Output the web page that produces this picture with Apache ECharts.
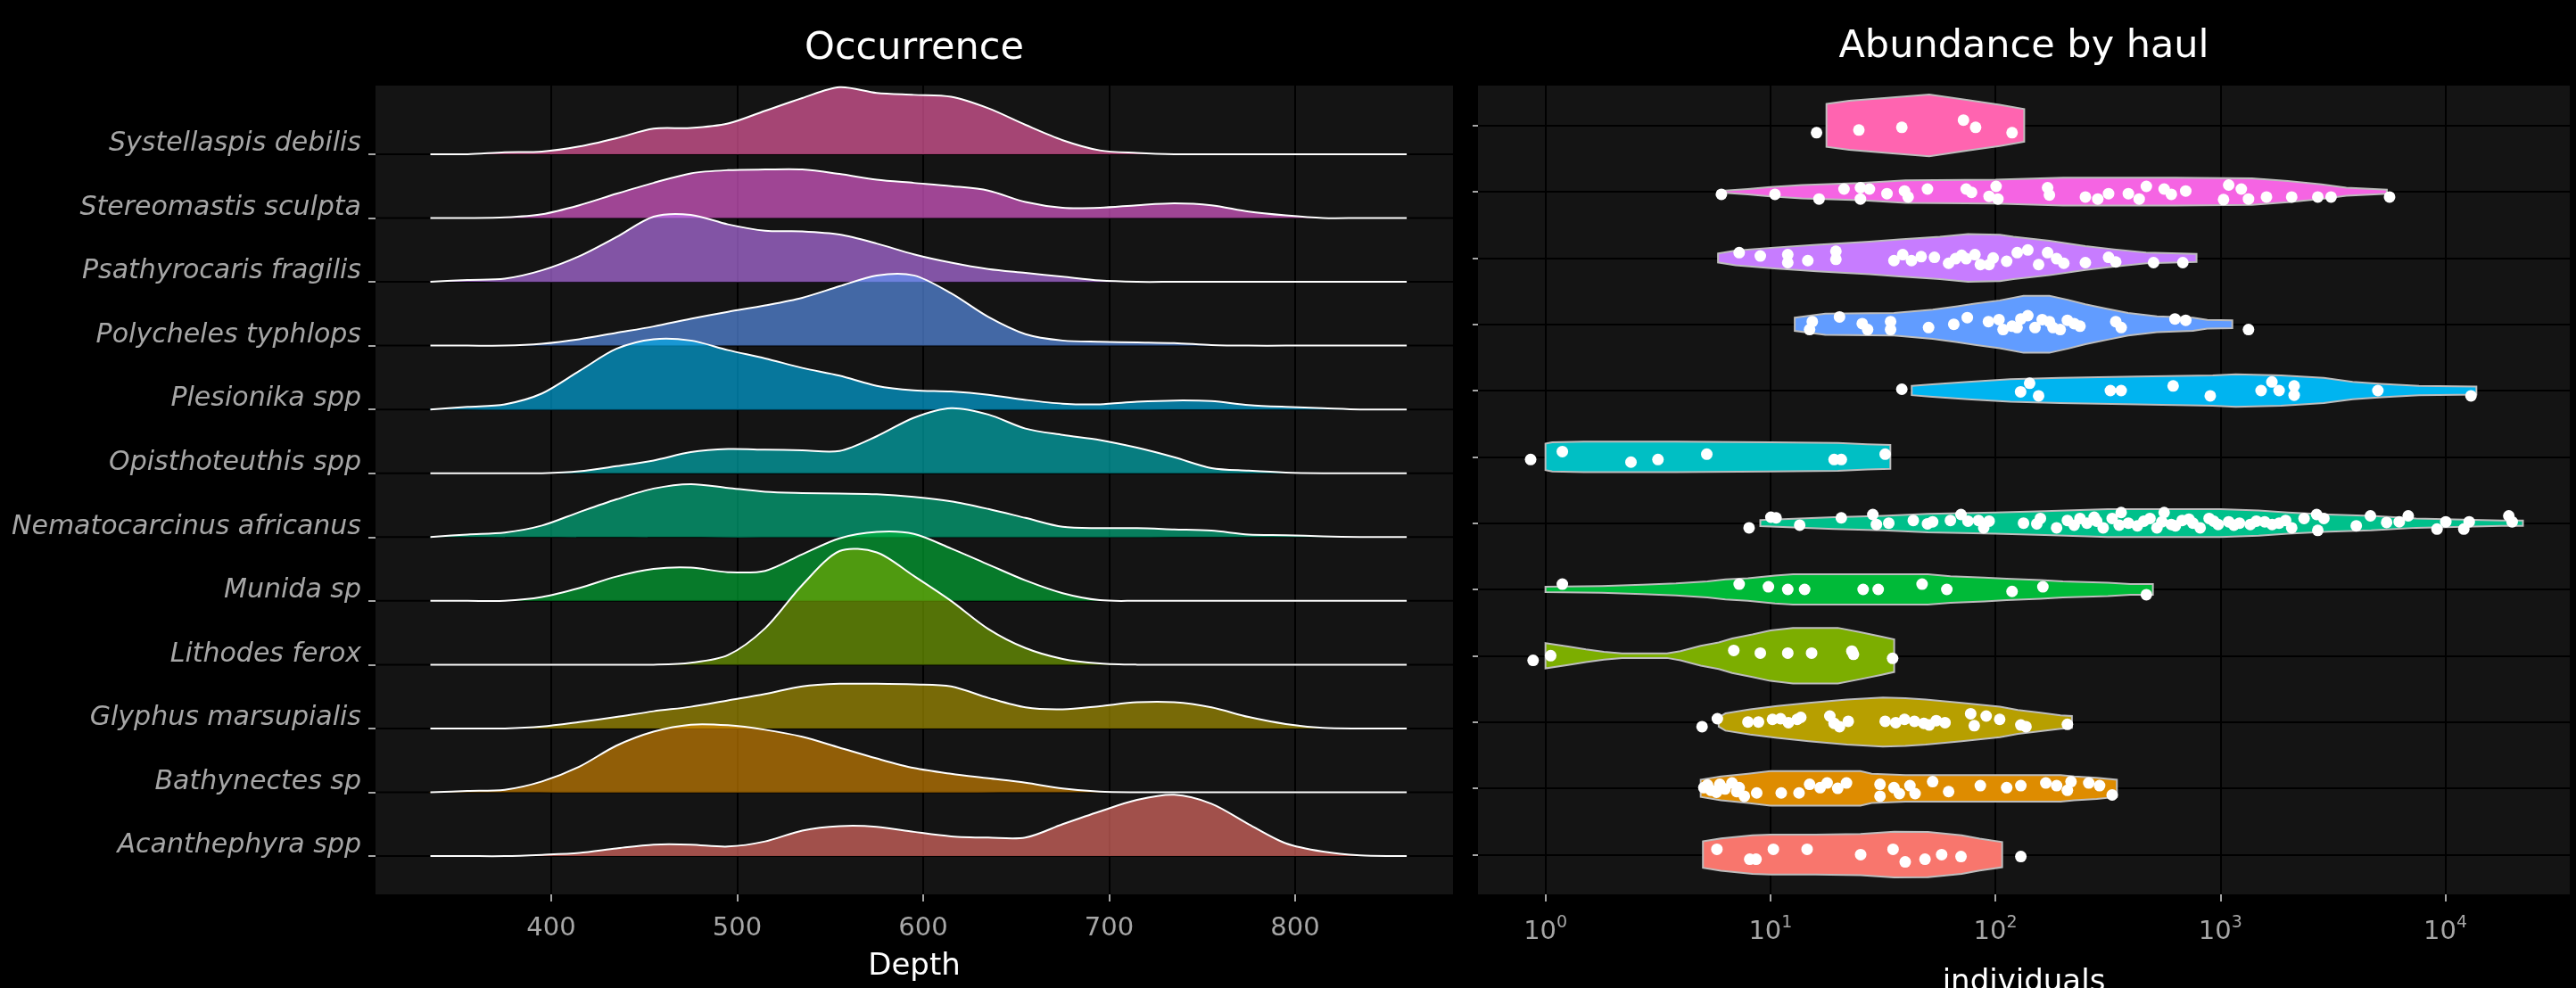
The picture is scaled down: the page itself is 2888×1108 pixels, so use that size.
<!DOCTYPE html>
<html>
<head>
<meta charset="utf-8">
<script src="https://cdn.jsdelivr.net/npm/echarts@6/dist/echarts.min.js"></script>
<style>
  html, body { margin: 0; background: #000; }
  #chart { width: 2888px; height: 1108px; }
</style>
</head>
<body>
<div id="chart"></div>
<script>
// species, bottom row first
const SPECIES = ['Acanthephyra spp', 'Bathynectes sp', 'Glyphus marsupialis', 'Lithodes ferox', 'Munida sp',
  'Nematocarcinus africanus', 'Opisthoteuthis spp', 'Plesionika spp', 'Polycheles typhlops',
  'Psathyrocaris fragilis', 'Stereomastis sculpta', 'Systellaspis debilis'];
const COLORS = ['#F8766D', '#DE8C00', '#B79F00', '#7CAE00', '#00BA38', '#00C08B', '#00BFC4', '#00B4F0',
  '#619CFF', '#C77CFF', '#F564E3', '#FF64B0'];

// occurrence ridges: density height (in row units) on a depth grid
const DEPTH = [335, 355, 375, 395, 415, 435, 455, 475, 495, 515, 535, 555, 575, 595, 615, 635, 655, 675, 695, 715, 735, 755, 775, 795, 815, 835, 855, 860];
const acanRidge = [0, 0, 0, 0.02, 0.05, 0.12, 0.18, 0.18, 0.15, 0.23, 0.40, 0.47, 0.46, 0.38, 0.31, 0.29, 0.29, 0.50, 0.70, 0.88, 0.96, 0.82, 0.50, 0.20, 0.07, 0.01, 0, 0];
const bathRidge = [0, 0.02, 0.04, 0.17, 0.40, 0.73, 0.95, 1.06, 1.05, 0.98, 0.87, 0.70, 0.53, 0.38, 0.29, 0.22, 0.15, 0.06, 0.01, 0, 0, 0, 0, 0, 0, 0, 0, 0];
const glypRidge = [0, 0, 0, 0.03, 0.10, 0.18, 0.27, 0.34, 0.44, 0.54, 0.66, 0.70, 0.70, 0.69, 0.66, 0.48, 0.33, 0.30, 0.35, 0.41, 0.41, 0.33, 0.18, 0.07, 0.01, 0, 0, 0];
const lithRidge = [0, 0, 0, 0, 0, 0, 0, 0.03, 0.15, 0.57, 1.25, 1.78, 1.76, 1.39, 1.00, 0.56, 0.26, 0.09, 0.02, 0, 0, 0, 0, 0, 0, 0, 0, 0];
const muniRidge = [0, 0, 0, 0.06, 0.20, 0.38, 0.50, 0.52, 0.45, 0.47, 0.73, 0.98, 1.08, 1.05, 0.82, 0.57, 0.32, 0.12, 0.01, 0, 0, 0, 0, 0, 0, 0, 0, 0];
const nemaRidge = [0, 0.04, 0.07, 0.18, 0.39, 0.59, 0.76, 0.83, 0.77, 0.71, 0.69, 0.68, 0.67, 0.63, 0.56, 0.44, 0.30, 0.16, 0.14, 0.14, 0.12, 0.10, 0.04, 0.03, 0.01, 0, 0, 0];
const opisRidge = [0, 0, 0, 0, 0.03, 0.11, 0.20, 0.33, 0.38, 0.37, 0.36, 0.35, 0.58, 0.87, 1.02, 0.92, 0.70, 0.60, 0.52, 0.40, 0.25, 0.08, 0.04, 0.01, 0, 0, 0, 0];
const plesRidge = [0, 0.04, 0.08, 0.25, 0.60, 0.95, 1.10, 1.08, 0.93, 0.80, 0.65, 0.53, 0.37, 0.30, 0.28, 0.23, 0.15, 0.09, 0.08, 0.12, 0.14, 0.13, 0.07, 0.04, 0.02, 0, 0, 0];
const polyRidge = [0, 0, 0, 0.03, 0.10, 0.20, 0.30, 0.42, 0.53, 0.63, 0.75, 0.93, 1.10, 1.10, 0.82, 0.45, 0.18, 0.08, 0.06, 0.05, 0.04, 0.01, 0, 0, 0, 0, 0, 0];
const psatRidge = [0, 0.03, 0.05, 0.18, 0.40, 0.70, 1.02, 1.05, 0.90, 0.80, 0.79, 0.74, 0.60, 0.43, 0.30, 0.20, 0.14, 0.08, 0.02, 0, 0, 0, 0, 0, 0, 0, 0, 0];
const sterRidge = [0, 0, 0.01, 0.06, 0.20, 0.38, 0.55, 0.70, 0.75, 0.76, 0.76, 0.69, 0.60, 0.55, 0.50, 0.43, 0.25, 0.16, 0.16, 0.20, 0.23, 0.20, 0.10, 0.04, 0, 0, 0, 0];
const systRidge = [0, 0, 0.03, 0.04, 0.12, 0.25, 0.40, 0.41, 0.48, 0.68, 0.88, 1.05, 0.96, 0.93, 0.90, 0.72, 0.46, 0.22, 0.06, 0.02, 0, 0, 0, 0, 0, 0, 0, 0];

// abundance violins: [log10(individuals), half width in row units]
const acanViolin = [[0.70, 0.20], [0.78, 0.245], [0.92, 0.29], [1.0, 0.30], [1.2, 0.30], [1.4, 0.31], [1.55, 0.345], [1.7, 0.34], [1.85, 0.29], [1.93, 0.24], [2.03, 0.19]];
const bathViolin = [[0.69, 0.13], [0.78, 0.18], [0.9, 0.22], [1.0, 0.26], [1.4, 0.26], [1.45, 0.22], [1.6, 0.20], [2.0, 0.20], [2.29, 0.20], [2.35, 0.18], [2.45, 0.16], [2.54, 0.13]];
const glypViolin = [[0.77, 0.07], [0.80, 0.13], [0.91, 0.19], [1.03, 0.24], [1.17, 0.29], [1.34, 0.34], [1.5, 0.37], [1.6, 0.36], [1.69, 0.34], [1.85, 0.29], [2.02, 0.23], [2.1, 0.18], [2.2, 0.14], [2.29, 0.10], [2.34, 0.09]];
const lithViolin = [[0, 0.19], [0.1, 0.14], [0.18, 0.095], [0.26, 0.06], [0.34, 0.034], [0.54, 0.034], [0.6, 0.07], [0.69, 0.15], [0.77, 0.2], [0.83, 0.26], [0.92, 0.32], [1.0, 0.38], [1.1, 0.42], [1.3, 0.42], [1.39, 0.36], [1.49, 0.29], [1.55, 0.245]];
const muniViolin = [[0, 0.04], [0.25, 0.05], [0.43, 0.07], [0.58, 0.09], [0.72, 0.12], [0.8, 0.15], [0.9, 0.17], [1.02, 0.21], [1.1, 0.23], [1.7, 0.23], [1.8, 0.2], [1.95, 0.18], [2.05, 0.16], [2.2, 0.14], [2.3, 0.12], [2.5, 0.10], [2.6, 0.08], [2.70, 0.08]];
const nemaViolin = [[0.955, 0.045], [1.283, 0.09], [1.5, 0.11], [1.7, 0.14], [2.0, 0.16], [2.22, 0.18], [2.5, 0.21], [3.0, 0.21], [3.17, 0.19], [3.3, 0.16], [3.48, 0.13], [3.67, 0.11], [3.87, 0.07], [4.25, 0.04], [4.345, 0.04]];
const opisViolin = [[0, 0.2], [0.03, 0.22], [0.17, 0.23], [0.58, 0.23], [1.0, 0.22], [1.3, 0.21], [1.43, 0.19], [1.533, 0.18]];
const plesViolin = [[1.628, 0.07], [1.706, 0.09], [1.878, 0.13], [2.066, 0.17], [2.288, 0.19], [2.63, 0.21], [2.966, 0.23], [3.069, 0.246], [3.27, 0.23], [3.46, 0.19], [3.588, 0.13], [3.715, 0.10], [3.883, 0.07], [4.138, 0.06]];
const polyViolin = [[1.108, 0.10], [1.244, 0.16], [1.549, 0.17], [1.721, 0.22], [1.831, 0.27], [1.909, 0.31], [2.019, 0.36], [2.125, 0.43], [2.24, 0.43], [2.32, 0.37], [2.40, 0.30], [2.495, 0.235], [2.59, 0.17], [2.718, 0.12], [2.878, 0.10], [2.942, 0.065], [3.053, 0.06]];
const psatViolin = [[0.767, 0.067], [0.845, 0.11], [1.017, 0.157], [1.205, 0.20], [1.44, 0.246], [1.573, 0.28], [1.753, 0.32], [1.878, 0.36], [2.02, 0.35], [2.08, 0.32], [2.24, 0.26], [2.40, 0.18], [2.527, 0.13], [2.67, 0.08], [2.894, 0.06]];
const sterViolin = [[0.77, 0.01], [0.9, 0.04], [1.0, 0.07], [1.14, 0.10], [1.4, 0.13], [1.6, 0.17], [2.0, 0.18], [2.3, 0.21], [2.8, 0.21], [3.14, 0.20], [3.3, 0.16], [3.45, 0.11], [3.56, 0.06], [3.74, 0.03]];
const systViolin = [[1.249, 0.324], [1.35, 0.37], [1.518, 0.416], [1.706, 0.465], [1.878, 0.38], [2.019, 0.31], [2.128, 0.246]];

// hauls: [log10(individuals), vertical jitter in row units]
const acanHauls = [[0.762, 0.08], [0.908, -0.07], [0.936, -0.07], [1.013, 0.08], [1.163, 0.08], [1.401, 0], [1.545, 0.08], [1.599, -0.11], [1.687, -0.07], [1.761, 0], [1.847, -0.03], [2.113, -0.03]];
const bathHauls = [[0.704, 0.01], [0.72, 0.05], [0.736, -0.03], [0.76, -0.06], [0.775, 0.06], [0.798, -0.01], [0.829, 0.08], [0.85, -0.05], [0.861, 0.01], [0.884, -0.12], [0.939, -0.07], [1.048, -0.07], [1.127, -0.07], [1.174, 0.06], [1.221, 0.01], [1.252, 0.08], [1.299, 0], [1.338, 0.08], [1.487, 0.06], [1.487, -0.12], [1.549, 0.01], [1.573, -0.08], [1.62, 0.04], [1.643, -0.08], [1.721, 0.10], [1.792, -0.05], [1.933, 0.04], [2.05, 0.01], [2.113, 0.04], [2.224, 0.08], [2.272, 0.04], [2.32, -0.03], [2.336, 0.10], [2.415, 0.08], [2.463, 0.04], [2.519, -0.10]];
const glypHauls = [[0.696, -0.07], [0.764, 0.05], [0.90, 0], [0.947, 0], [1.009, 0.04], [1.045, 0.05], [1.08, -0.01], [1.119, 0.04], [1.135, 0.07], [1.264, 0.09], [1.283, -0.02], [1.307, -0.07], [1.346, 0.01], [1.51, 0.01], [1.557, -0.01], [1.596, 0.04], [1.64, 0.01], [1.682, -0.02], [1.706, -0.045], [1.737, 0.02], [1.776, -0.01], [1.89, 0.125], [1.906, -0.055], [1.959, 0.09], [2.019, 0.04], [2.113, -0.045], [2.136, -0.07], [2.32, -0.035]];
const lithHauls = [[-0.055, -0.07], [0.023, 0], [0.837, 0.08], [0.955, 0.04], [1.077, 0.04], [1.183, 0.04], [1.362, 0.07], [1.369, 0.02], [1.543, -0.04]];
const muniHauls = [[0.075, 0.08], [0.861, 0.08], [0.991, 0.04], [1.077, 0], [1.152, 0], [1.412, 0], [1.479, 0], [1.674, 0.08], [1.784, 0], [2.074, -0.03], [2.211, 0.04], [2.671, -0.08]];
const nemaHauls = [[0.905, -0.07], [1.002, 0.09], [1.025, 0.08], [1.13, -0.03], [1.315, 0.08], [1.455, 0.13], [1.471, -0.02], [1.526, 0], [1.635, 0.04], [1.698, -0.01], [1.721, 0.02], [1.80, 0.04], [1.847, 0.13], [1.878, 0.03], [1.925, 0.04], [1.948, -0.07], [1.972, 0.03], [2.125, 0],
  [2.184, -0.01], [2.20, 0.07], [2.272, -0.07], [2.32, 0.04], [2.35, -0.03], [2.376, 0.07], [2.407, 0], [2.439, 0.09], [2.45, 0.03], [2.479, -0.07], [2.519, 0.07], [2.55, -0.03], [2.559, 0.16], [2.591, 0], [2.631, -0.04], [2.66, 0.03], [2.687, 0.07], [2.718, -0.07], [2.74, 0.02], [2.75, 0.16], [2.782, -0.02], [2.80, -0.04], [2.83, 0.04], [2.86, 0.06], [2.878, 0], [2.91, -0.07], [2.95, 0.07], [2.97, 0.03], [2.99, -0.02], [3.037, 0.02], [3.06, -0.03], [3.085, 0], [3.133, -0.02], [3.16, 0.03], [3.197, 0.02], [3.23, -0.02], [3.261, 0], [3.29, 0.04], [3.317, -0.07], [3.372, 0.07], [3.428, 0.13], [3.433, -0.11], [3.46, 0.07], [3.604, -0.04], [3.667, 0.11], [3.739, 0.01], [3.795, 0.02], [3.835, 0.11], [3.963, -0.09], [4.002, 0.02], [4.082, -0.09], [4.106, 0.02], [4.282, 0.11], [4.297, 0.02]];
const opisHauls = [[-0.066, -0.04], [0.075, 0.08], [0.38, -0.08], [0.50, -0.04], [0.717, 0.04], [1.283, -0.04], [1.315, -0.04], [1.51, 0.04]];
const plesHauls = [[1.584, 0.02], [2.112, -0.02], [2.152, 0.11], [2.192, -0.08], [2.511, 0], [2.559, 0], [2.79, 0.07], [2.955, -0.08], [3.181, 0], [3.229, 0.13], [3.261, 0], [3.328, 0.07], [3.328, -0.07], [3.70, 0], [4.114, -0.08]];
const polyHauls = [[1.174, -0.08], [1.186, 0.04], [1.307, 0.11], [1.408, 0.01], [1.432, -0.08], [1.534, 0.04], [1.534, -0.08], [1.703, -0.05], [1.815, 0], [1.875, 0.1], [1.969, 0.04], [2.016, 0.07], [2.034, -0.08], [2.074, -0.03], [2.096, -0.05], [2.113, 0.08], [2.144, 0.13], [2.176, -0.05], [2.208, 0.07], [2.24, 0.04], [2.256, -0.05], [2.288, -0.08], [2.32, 0.06], [2.35, 0.01], [2.376, -0.03], [2.535, 0.04], [2.559, -0.05], [2.798, 0.08], [2.846, 0.06], [3.125, -0.08]];
const psatHauls = [[0.861, 0.08], [0.955, 0.03], [1.077, 0.05], [1.077, -0.07], [1.166, -0.04], [1.291, 0.1], [1.291, -0.02], [1.549, -0.04], [1.588, 0.05], [1.627, -0.04], [1.67, 0.02], [1.729, 0.01], [1.792, -0.08], [1.823, -0.01], [1.85, 0.04], [1.87, -0.01], [1.909, 0.05], [1.933, -0.1], [1.972, -0.1], [1.99, 0], [2.05, -0.05], [2.097, 0.08],
  [2.144, 0.12], [2.192, -0.1], [2.232, 0.08], [2.272, -0.01], [2.304, -0.08], [2.40, -0.07], [2.503, 0.01], [2.535, -0.06], [2.703, -0.07], [2.833, -0.07]];
const sterHauls = [[0.782, -0.04], [1.02, -0.04], [1.216, -0.11], [1.327, 0.04], [1.40, 0.06], [1.44, 0.04], [1.40, -0.11], [1.518, -0.03], [1.596, 0.01], [1.612, -0.08], [1.698, 0.04], [1.87, 0.04], [1.894, -0.01], [1.972, -0.07], [2.003, 0.08], [2.011, -0.11],
  [2.232, 0.06], [2.24, -0.05], [2.40, -0.08], [2.455, -0.11], [2.503, -0.03], [2.591, -0.03], [2.639, -0.11], [2.671, 0.08], [2.75, 0.04], [2.782, -0.04], [2.846, 0.01], [3.014, -0.12], [3.037, 0.1], [3.093, 0.04], [3.125, -0.11], [3.205, -0.08], [3.317, -0.08], [3.433, -0.08], [3.492, -0.08], [3.752, -0.08]];
const systHauls = [[1.205, -0.11], [1.393, -0.07], [1.584, -0.03], [1.858, 0.08], [1.912, -0.03], [2.074, -0.11]];

const DEPTH_TICKS = [400, 500, 600, 700, 800];
const LOG_TICKS = [0, 1, 2, 3, 4];
const ROWS = SPECIES.map((s, i) => i + 1);

const ridges = [acanRidge, bathRidge, glypRidge, lithRidge, muniRidge, nemaRidge, opisRidge, plesRidge, polyRidge, psatRidge, sterRidge, systRidge];
const violins = [acanViolin, bathViolin, glypViolin, lithViolin, muniViolin, nemaViolin, opisViolin, plesViolin, polyViolin, psatViolin, sterViolin, systViolin];
const hauls = [acanHauls, bathHauls, glypHauls, lithHauls, muniHauls, nemaHauls, opisHauls, plesHauls, polyHauls, psatHauls, sterHauls, systHauls];

const FONT = 'DejaVu Sans';
const AXIS_TEXT = '#a6a6a6';
const DEPTH_MIN = 305.5, DEPTH_MAX = 884.9;

function fade(hex, a) {
    const n = parseInt(hex.slice(1), 16);
    return `rgba(${n >> 16}, ${(n >> 8) & 255}, ${n & 255}, ${a})`;
}

const chart = echarts.init(document.getElementById('chart'));

// horizontal grid lines at the ridge baselines
const baselineSeries = {
    type: 'custom',
    xAxisIndex: 0,
    yAxisIndex: 0,
    z: 1,
    data: ROWS.map(r => [DEPTH_MIN, r]),
    renderItem: (params, api) => {
        const r = ROWS[params.dataIndex];
        const a = api.coord([DEPTH_MIN, r]);
        const b = api.coord([DEPTH_MAX, r]);
        return {
            type: 'line',
            shape: { x1: a[0], y1: a[1], x2: b[0], y2: b[1] },
            style: { stroke: '#000', lineWidth: 2 }
        };
    }
};

// top row first so lower ridges overlap the ones above
const ridgeSeries = ridges.map((h, i) => ({ h, i })).reverse().map(({ h, i }, k) => ({
    type: 'custom',
    name: SPECIES[i],
    xAxisIndex: 0,
    yAxisIndex: 0,
    z: 2,
    data: DEPTH.map((d, j) => [d, i + 1 + h[j]]),
    renderItem: (params, api) => {
        if (params.dataIndex !== 0) return null;
        const pts = DEPTH.map((d, j) => api.coord([d, i + 1 + h[j]]));
        return {
            type: 'group',
            children: [
                {
                    type: 'polygon',
                    z2: k * 2,
                    shape: { points: pts, smooth: 0.3 },
                    style: { fill: fade(COLORS[i], 0.62), stroke: null }
                },
                {
                    type: 'polyline',
                    z2: k * 2 + 1,
                    shape: { points: pts, smooth: 0.3 },
                    style: { fill: null, stroke: '#ffffff', lineWidth: 2 }
                }
            ]
        };
    }
}));

const violinSeries = {
    type: 'custom',
    xAxisIndex: 1,
    yAxisIndex: 1,
    z: 2,
    data: violins.map((v, i) => [v[0][0], i + 1]),
    renderItem: (params, api) => {
        const i = params.dataIndex;
        const v = violins[i];
        const top = v.map(([x, w]) => api.coord([x, i + 1 + w]));
        const bottom = v.slice().reverse().map(([x, w]) => api.coord([x, i + 1 - w]));
        return {
            type: 'polygon',
            shape: { points: top.concat(bottom) },
            style: { fill: COLORS[i], stroke: '#bdbdbd', lineWidth: 2 }
        };
    }
};

const haulSeries = {
    type: 'scatter',
    xAxisIndex: 1,
    yAxisIndex: 1,
    z: 3,
    symbol: 'circle',
    symbolSize: 13,
    itemStyle: { color: '#ffffff', opacity: 1 },
    data: hauls.flatMap((pts, i) => pts.map(([x, dy]) => [x, i + 1 + dy]))
};

const option = {
    backgroundColor: '#000000',
    animation: false,
    textStyle: { fontFamily: FONT },
    title: [
        {
            text: 'Occurrence', left: 1025, top: 33, textAlign: 'center', padding: 0,
            textStyle: { color: '#ffffff', fontSize: 43, fontWeight: 'normal', fontFamily: FONT, lineHeight: 43 }
        },
        {
            text: 'Abundance by haul', left: 2269, top: 31, textAlign: 'center', padding: 0,
            textStyle: { color: '#ffffff', fontSize: 43, fontWeight: 'normal', fontFamily: FONT, lineHeight: 43 }
        }
    ],
    grid: [
        { left: 421, top: 96, width: 1208, height: 907, show: true, backgroundColor: '#141414', borderWidth: 0, containLabel: false, outerBoundsMode: 'none' },
        { left: 1657, top: 96, width: 1224, height: 907, show: true, backgroundColor: '#141414', borderWidth: 0, containLabel: false, outerBoundsMode: 'none' }
    ],
    xAxis: [
        {
            gridIndex: 0,
            type: 'value',
            min: DEPTH_MIN,
            max: DEPTH_MAX,
            splitNumber: 12,
            axisLine: { show: false, onZero: false },
            axisTick: { show: true, customValues: DEPTH_TICKS, length: 8, lineStyle: { color: AXIS_TEXT, width: 2 } },
            axisLabel: { customValues: DEPTH_TICKS, color: AXIS_TEXT, fontSize: 29, lineHeight: 29, margin: 24, fontFamily: FONT },
            splitLine: { show: true, lineStyle: { color: '#000000', width: 2 } },
            name: 'Depth',
            nameLocation: 'middle',
            nameGap: 64,
            nameTextStyle: { color: '#ffffff', fontSize: 34, lineHeight: 34, fontFamily: FONT }
        },
        {
            gridIndex: 1,
            type: 'value',
            min: -0.30,
            max: 4.553,
            splitNumber: 10,
            axisLine: { show: false, onZero: false },
            axisTick: { show: true, customValues: LOG_TICKS, length: 8, lineStyle: { color: AXIS_TEXT, width: 2 } },
            axisLabel: {
                customValues: LOG_TICKS,
                margin: 23,
                formatter: v => '{b|10}{s|' + Math.round(v) + '}',
                rich: {
                    b: { fontSize: 29, lineHeight: 29, padding: [10, 0, 0, 0], color: AXIS_TEXT, fontFamily: FONT },
                    s: { fontSize: 19, lineHeight: 19, verticalAlign: 'top', color: AXIS_TEXT, fontFamily: FONT }
                }
            },
            splitLine: { show: true, lineStyle: { color: '#000000', width: 2 } },
            name: 'individuals',
            nameLocation: 'middle',
            nameGap: 82,
            nameTextStyle: { color: '#ffffff', fontSize: 34, lineHeight: 34, fontFamily: FONT }
        }
    ],
    yAxis: [
        {
            gridIndex: 0,
            type: 'value',
            min: 0.4,
            max: 13.075,
            axisLine: { show: false, onZero: false },
            axisTick: { show: true, customValues: ROWS, length: 8, lineStyle: { color: AXIS_TEXT, width: 2 } },
            axisLabel: {
                customValues: ROWS,
                formatter: v => SPECIES[Math.round(v) - 1],
                color: AXIS_TEXT,
                fontSize: 30,
                fontStyle: 'italic',
                fontFamily: FONT,
                margin: 16,
                verticalAlign: 'bottom',
                lineHeight: 23
            },
            splitLine: { show: false }
        },
        {
            gridIndex: 1,
            type: 'value',
            min: 0.4,
            max: 12.6,
            splitNumber: 12,
            axisLine: { show: false, onZero: false },
            axisTick: { show: true, customValues: ROWS, length: 6, lineStyle: { color: AXIS_TEXT, width: 2 } },
            axisLabel: { show: false },
            splitLine: { show: true, lineStyle: { color: '#000000', width: 2 } }
        }
    ],
    series: [baselineSeries, ...ridgeSeries, violinSeries, haulSeries]
};

chart.setOption(option);
</script>
</body>
</html>
